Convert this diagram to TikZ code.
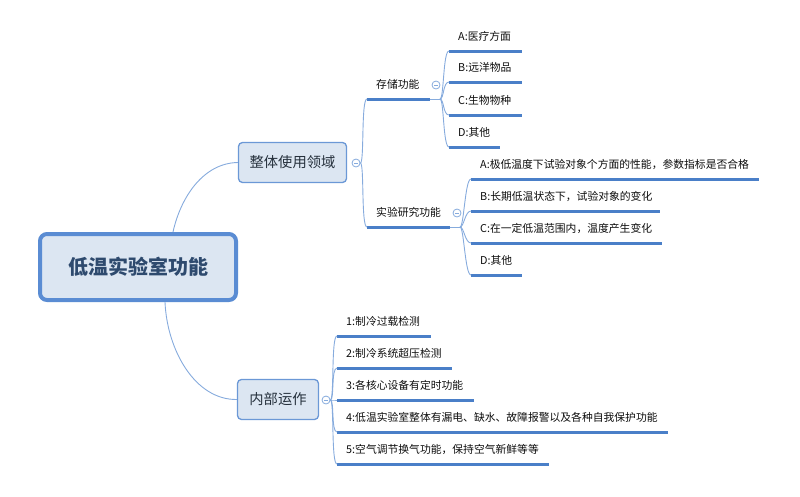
\documentclass[tikz,border=0pt]{standalone}
\usepackage{fontspec}
\setmainfont{Noto Sans CJK SC}
\usetikzlibrary{calc}
\definecolor{lineblue}{HTML}{4A7FC8}
\definecolor{connblue}{HTML}{86ABDD}
\definecolor{boxfill}{HTML}{DCE6F2}
\definecolor{boxedge}{HTML}{6B98D6}
\definecolor{rootedge}{HTML}{5A8CD3}
\definecolor{roottext}{HTML}{2E4A6E}
\definecolor{boxtext}{HTML}{26313D}
\begin{document}
\begin{tikzpicture}[x=1pt,y=-1pt,
  rootbox/.style={draw=rootedge,line width=4pt,fill=boxfill,rounded corners=7pt,
    minimum width=196pt,minimum height=66pt,text=roottext,
    font=\fontsize{20}{24}\selectfont\bfseries},
  subbox/.style={draw=boxedge,line width=1.3pt,fill=boxfill,rounded corners=4pt,
    minimum height=40pt,text=boxtext,font=\fontsize{14.3}{17}\selectfont},
  toggle/.style={circle,draw=connblue,fill=white,line width=0.8pt,minimum size=8pt,inner sep=0pt,
    path picture={\draw[connblue,line width=0.7pt] ($(path picture bounding box.west)+(2pt,0)$) -- ($(path picture bounding box.east)+(-2pt,0)$);}},
  leaf/.style={anchor=south west,inner xsep=9pt,inner ysep=7pt,text height=9pt,text depth=3pt,
    text=black!95,font=\fontsize{10.8}{13}\selectfont},
  conn/.style={draw=connblue,line width=0.9pt},
  uline/.style={draw=lineblue,line width=3pt},
  bracket/.style={conn,to path={.. controls ($(\tikztostart)+(4,0)$) and ($(\tikztotarget)+(-6,0)$) .. (\tikztotarget)}}
]
\useasboundingbox (0,0) rectangle (800,496);

% root and main branches
\node[rootbox] (root) at (138,267) {低温实验室功能};
\node[subbox,minimum width=108pt] (b1) at (292.5,162.5) {整体使用领域};
\node[subbox,minimum width=81pt] (b2) at (278,399.5) {内部运作};
\node[toggle] (t1) at (356,163) {};
\node[toggle] (t2) at (326,400) {};

\draw[conn] ($(root.north)+(35,0)$) .. controls (181,196) and (204,163) .. (b1.west);
\draw[conn] ($(root.south)+(27,0)$) .. controls (167,350) and (195,400) .. (b2.west);

% second level under b1
\node[leaf] (s1) at (367,99) {存储功能};
\node[leaf] (s2) at (367,227) {实验研究功能};
\draw[uline] (s1.south west) -- +(63,0);
\draw[uline] (s2.south west) -- +(83,0);
\draw[bracket] (t1.east) to (s1.south west);
\draw[bracket] (t1.east) to (s2.south west);
\node[toggle] (t3) at (436,85) {};
\node[toggle] (t4) at (457,213) {};
\coordinate (f1) at (440,99);
\coordinate (f2) at (460,227);
\draw[conn] ($(s1.south west)+(63,0)$) -- (f1);
\draw[conn] ($(s2.south west)+(83,0)$) -- (f2);

% leaves of s1
\node[leaf] (a1) at (449,51) {A:医疗方面};
\node[leaf] (a2) at (449,82) {B:远洋物品};
\node[leaf] (a3) at (449,115) {C:生物物种};
\node[leaf] (a4) at (449,147) {D:其他};
\draw[uline] (a1.south west) -- +(73,0);
\draw[uline] (a2.south west) -- +(73,0);
\draw[uline] (a3.south west) -- +(73,0);
\draw[uline] (a4.south west) -- +(51,0);
\foreach \n in {a1,a2,a3,a4} \draw[bracket] (f1) to (\n.south west);

% leaves of s2
\node[leaf] (c1) at (471,179) {A:极低温度下试验对象个方面的性能，参数指标是否合格};
\node[leaf] (c2) at (471,211) {B:长期低温状态下，试验对象的变化};
\node[leaf] (c3) at (471,243) {C:在一定低温范围内，温度产生变化};
\node[leaf] (c4) at (471,275) {D:其他};
\draw[uline] (c1.south west) -- +(288,0);
\draw[uline] (c2.south west) -- +(189,0);
\draw[uline] (c3.south west) -- +(191,0);
\draw[uline] (c4.south west) -- +(51,0);
\foreach \n in {c1,c2,c3,c4} \draw[bracket] (f2) to (\n.south west);

% leaves of b2
\node[leaf] (d1) at (337,336) {1:制冷过载检测};
\node[leaf] (d2) at (337,368) {2:制冷系统超压检测};
\node[leaf] (d3) at (337,400) {3:各核心设备有定时功能};
\node[leaf] (d4) at (337,432) {4:低温实验室整体有漏电、缺水、故障报警以及各种自我保护功能};
\node[leaf] (d5) at (337,464) {5:空气调节换气功能，保持空气新鲜等等};
\draw[uline] (d1.south west) -- +(94,0);
\draw[uline] (d2.south west) -- +(115,0);
\draw[uline] (d3.south west) -- +(137,0);
\draw[uline] (d4.south west) -- +(331,0);
\draw[uline] (d5.south west) -- +(212,0);
\foreach \n in {d1,d2,d3,d4,d5} \draw[bracket] (t2.east) to (\n.south west);
\end{tikzpicture}
\end{document}
